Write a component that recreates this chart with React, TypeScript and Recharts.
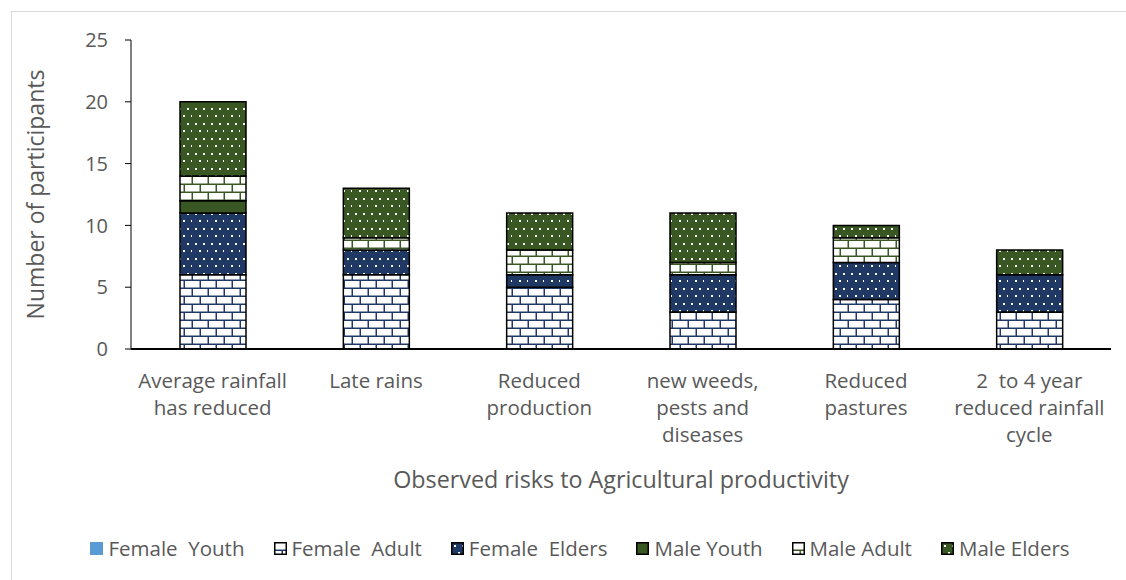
import React from "react";
import { BarChart, Bar, XAxis, YAxis } from "recharts";

const categories = [
  "Average rainfall\nhas reduced",
  "Late rains",
  "Reduced\nproduction",
  "new weeds,\npests and\ndiseases",
  "Reduced\npastures",
  "2  to 4 year\nreduced rainfall\ncycle",
];
const femaleYouth = [0, 0, 0, 0, 0, 0];
const femaleAdult = [6, 6, 5, 3, 4, 3];
const femaleElders = [5, 2, 1, 3, 3, 3];
const maleYouth = [1, 0, 0, 0, 0, 0];
const maleAdult = [2, 1, 2, 1, 2, 0];
const maleElders = [6, 4, 3, 4, 1, 2];
const yTicks = [0, 5, 10, 15, 20, 25];

const NAVY = "#203864";
const GREEN = "#385723";
const TEXT = "#595959";
const FONT = "'Open Sans', 'Noto Sans', sans-serif";

const series = [
  { key: "fy", name: "Female  Youth", fill: "#5B9BD5", values: femaleYouth },
  { key: "fa", name: "Female  Adult", fill: "url(#brickNavy)", values: femaleAdult },
  { key: "fe", name: "Female  Elders", fill: "url(#dotNavy)", values: femaleElders },
  { key: "my", name: "Male Youth", fill: GREEN, values: maleYouth },
  { key: "ma", name: "Male Adult", fill: "url(#brickGreen)", values: maleAdult },
  { key: "me", name: "Male Elders", fill: "url(#dotGreen)", values: maleElders },
];

const data = categories.map((name, i) => {
  const row: Record<string, string | number> = { name };
  series.forEach((s) => {
    row[s.key] = s.values[i];
  });
  return row;
});

function Brick({ id, color }: { id: string; color: string }) {
  return (
    <pattern id={id} patternUnits="userSpaceOnUse" width={16} height={16}>
      <rect width={16} height={16} fill={color} />
      <rect x={1} y={1} width={14.5} height={6.5} fill="#fff" />
      <rect x={-7} y={9} width={14.5} height={6.5} fill="#fff" />
      <rect x={9} y={9} width={14.5} height={6.5} fill="#fff" />
    </pattern>
  );
}

function Dots({ id, color }: { id: string; color: string }) {
  return (
    <pattern id={id} patternUnits="userSpaceOnUse" width={16} height={15}>
      <rect width={16} height={15} fill={color} />
      <rect x={3} y={3} width={2} height={2} fill="#fff" />
      <rect x={11} y={3} width={2} height={2} fill="#fff" />
      <rect x={7} y={10} width={2} height={2} fill="#fff" />
      <rect x={15} y={10} width={2} height={2} fill="#fff" />
    </pattern>
  );
}

function CategoryTick({ x, y, payload }: { x: number; y: number; payload: { value: string } }) {
  const lines = String(payload.value).split("\n");
  return (
    <text x={x} y={y} textAnchor="middle" fill={TEXT} fontSize={20.5} fontFamily={FONT}>
      {lines.map((l, i) => (
        <tspan key={i} x={x} dy={i === 0 ? 39 : 27} style={{ whiteSpace: "pre" }}>
          {l}
        </tspan>
      ))}
    </text>
  );
}

function YTitle({ viewBox }: any) {
  const cx = 35;
  const cy = viewBox.y + viewBox.height / 2;
  return (
    <text
      x={cx}
      y={cy}
      transform={`rotate(-90 ${cx} ${cy})`}
      textAnchor="middle"
      dominantBaseline="central"
      fill={TEXT}
      fontSize={23}
      fontFamily={FONT}
    >
      Number of participants
    </text>
  );
}

function XTitle({ viewBox }: any) {
  return (
    <text
      x={viewBox.x + viewBox.width / 2}
      y={viewBox.y + 130}
      textAnchor="middle"
      dominantBaseline="central"
      fill={TEXT}
      fontSize={23.3}
      fontFamily={FONT}
    >
      Observed risks to Agricultural productivity
    </text>
  );
}

function LegendRow() {
  return (
    <div
      style={{
        position: "absolute",
        left: 0,
        top: 534,
        width: 1160,
        display: "flex",
        justifyContent: "center",
        gap: 29,
        fontFamily: FONT,
        fontSize: 20.5,
        color: TEXT,
      }}
    >
      {series.map((s) => (
        <div key={s.key} style={{ display: "flex", alignItems: "center", gap: 5 }}>
          <svg width={13} height={13}>
            {s.key === "fy" ? (
              <rect x={0} y={0} width={13} height={13} fill={s.fill} />
            ) : (
              <rect x={0.75} y={0.75} width={11.5} height={11.5} fill={s.fill} stroke="#000" strokeWidth={1.5} />
            )}
          </svg>
          <span style={{ whiteSpace: "pre" }}>{s.name}</span>
        </div>
      ))}
    </div>
  );
}

export default function App() {
  return (
    <div style={{ position: "fixed", left: 0, top: 0, width: 1126, height: 580, background: "#fff", overflow: "hidden" }}>
      <div
        style={{
          position: "absolute",
          left: 11,
          top: 11,
          width: 1200,
          height: 700,
          border: "1px solid #d9d9d9",
        }}
      />
      <div style={{ position: "absolute", left: 0, top: 0 }}>
        <BarChart
          width={1126}
          height={580}
          data={data}
          margin={{ top: 40, left: 71, right: 15, bottom: 111 }}
          barSize={66}
        >
          <defs>
            <Brick id="brickNavy" color={NAVY} />
            <Brick id="brickGreen" color={GREEN} />
            <Dots id="dotNavy" color={NAVY} />
            <Dots id="dotGreen" color={GREEN} />
          </defs>
          <XAxis
            dataKey="name"
            interval={0}
            height={120}
            tickLine={false}
            tickSize={0}
            tickMargin={0}
            axisLine={{ stroke: "#000", strokeWidth: 2 }}
            tick={CategoryTick as any}
            label={<XTitle />}
          />
          <YAxis
            width={60}
            domain={[0, 25]}
            ticks={yTicks}
            interval={0}
            tickSize={6}
            tickMargin={17}
            axisLine={{ stroke: "#000", strokeWidth: 1 }}
            tickLine={{ stroke: "#000", strokeWidth: 1 }}
            tick={{ fill: TEXT, fontSize: 20, fontFamily: FONT }}
            label={<YTitle />}
          />
          {series.map((s) => (
            <Bar
              key={s.key}
              dataKey={s.key}
              name={s.name}
              stackId="a"
              fill={s.fill}
              stroke="#000"
              strokeWidth={1.5}
              isAnimationActive={false}
            />
          ))}
        </BarChart>
      </div>
      <LegendRow />
    </div>
  );
}
